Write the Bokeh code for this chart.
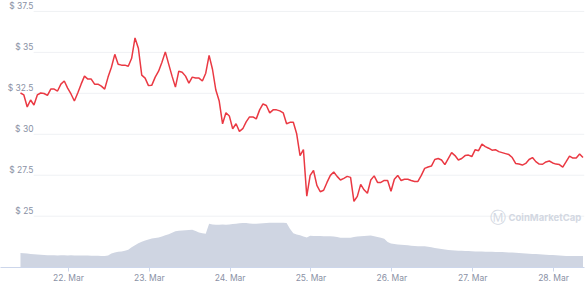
from datetime import datetime, timedelta
import pandas as pd
from bokeh.plotting import figure
from bokeh.models import Range1d, Label, FixedTicker, DatetimeTickFormatter, ColumnDataSource
from bokeh.embed import file_html
from bokeh.resources import INLINE

# ---- data ----
start_time = datetime(2022, 3, 21, 9, 45)   # first hourly sample
price = [
    32.52, 32.40, 31.67, 32.09, 31.79, 32.40, 32.52, 32.49, 32.37, 32.76,
    32.76, 32.64, 33.06, 33.25, 32.82, 32.46, 32.03, 32.52, 33.06, 33.55,
    33.37, 33.37, 33.06, 33.06, 32.94, 32.76, 33.49, 34.09, 34.88, 34.28,
    34.22, 34.22, 34.15, 34.64, 35.88, 35.25, 33.61, 33.43, 32.97, 33.00,
    33.49, 33.85, 34.40, 35.03, 34.28, 33.55, 32.88, 33.85, 33.79, 33.55,
    33.12, 33.49, 33.43, 33.43, 33.25, 33.73, 34.82, 33.97, 32.70, 32.03,
    30.64, 31.31, 31.12, 30.34, 30.64, 30.18, 30.34, 30.76, 31.06, 31.06,
    30.94, 31.49, 31.85, 31.76, 31.31, 31.49, 31.49, 31.43, 31.31, 30.64,
    30.73, 30.73, 30.03, 28.70, 29.06, 26.22, 27.49, 27.79, 26.88, 26.49,
    26.58, 27.06, 27.49, 27.70, 27.43, 27.21, 27.31, 27.43, 27.37, 25.91,
    26.21, 26.94, 26.61, 26.40, 27.21, 27.46, 27.06, 27.06, 27.18, 27.18,
    26.52, 27.25, 27.49, 27.18, 27.25, 27.25, 27.18, 27.12, 27.12, 27.49,
    27.92, 28.00, 28.06, 28.46, 28.52, 28.43, 28.15, 28.52, 28.88, 28.70,
    28.43, 28.52, 28.70, 28.73, 28.64, 29.06, 29.00, 29.40, 29.25, 29.15,
    29.03, 29.06, 28.94, 28.88, 28.82, 28.76, 28.58, 28.22, 28.18, 28.12,
    28.22, 28.46, 28.58, 28.33, 28.18, 28.17, 28.31, 28.37, 28.25, 28.18,
    28.15, 28.00, 28.33, 28.67, 28.55, 28.55, 28.79, 28.58,
]
volume_musd = [
    588, 576, 560, 544, 532, 520, 512, 504, 496, 492,
    496, 488, 492, 496, 488, 492, 488, 488, 484, 480,
    480, 476, 472, 472, 468, 468, 488, 560, 608, 632,
    648, 672, 712, 820, 892, 980, 1036, 1092, 1132, 1168,
    1188, 1212, 1248, 1300, 1344, 1400, 1456, 1484, 1496, 1504,
    1512, 1520, 1468, 1408, 1376, 1360, 1760, 1736, 1720, 1720,
    1728, 1720, 1732, 1752, 1768, 1784, 1796, 1792, 1776, 1764,
    1760, 1772, 1788, 1796, 1800, 1800, 1800, 1800, 1800, 1792,
    1560, 1384, 1332, 1300, 1248, 1208, 1280, 1268, 1268, 1268,
    1264, 1260, 1256, 1252, 1228, 1200, 1200, 1200, 1200, 1228,
    1252, 1264, 1272, 1284, 1292, 1260, 1228, 1200, 1160, 1028,
    972, 944, 928, 920, 904, 892, 880, 868, 860, 856,
    852, 840, 812, 784, 764, 744, 724, 704, 692, 684,
    676, 672, 664, 660, 656, 648, 644, 640, 636, 632,
    632, 628, 628, 624, 616, 608, 600, 592, 584, 576,
    568, 556, 548, 540, 532, 524, 516, 508, 500, 492,
    480, 472, 468, 468, 468, 468, 468, 468,
]
price_ticks = [25, 27.5, 30, 32.5, 35, 37.5]
price_tick_labels = ["$ 25", "$ 27.5", "$ 30", "$ 32.5", "$ 35", "$ 37.5"]
date_ticks = [datetime(2022, 3, d) for d in range(22, 29)]

# ---- styles ----
RED = "#ea3943"
AREA = "#cfd5e2"
GRID = "#eff1f4"
LABEL = "#8a91a5"
WATERMARK = "#d3d8e2"
FONT = "Inter"

times = pd.date_range(start_time, periods=len(price), freq="h")
src = ColumnDataSource(dict(t=times, price=price, vol=volume_musd))

x_start = datetime(2022, 3, 21, 3, 49)   # frame starts at the page's left edge
x_end = datetime(2022, 3, 28, 9, 12)

p = figure(width=588, height=285, output_backend="svg", toolbar_location=None,
           x_axis_type="datetime",
           x_range=Range1d(x_start, x_end), y_range=Range1d(21.867, 38.167),
           min_border_left=0, min_border_right=4, min_border_top=0, min_border_bottom=16)
p.extra_y_ranges = {"vol": Range1d(0, 10760)}
p.outline_line_color = None
p.xgrid.visible = False
p.ygrid.visible = False
p.yaxis.visible = False
p.background_fill_color = "white"
p.border_fill_color = "white"

# horizontal grid lines (start right of the labels, as in the reference)
grid_x0 = start_time + timedelta(hours=3.9)
p.segment(x0=[grid_x0] * len(price_ticks), x1=[x_end] * len(price_ticks),
          y0=price_ticks, y1=price_ticks, line_color=GRID, line_width=1)

# volume area
p.varea(x="t", y1=0, y2="vol", source=src, y_range_name="vol", fill_color=AREA)

# price line
p.line(x="t", y="price", source=src, line_color=RED, line_width=1.5)

# y labels inside the plot
for v, txt in zip(price_ticks, price_tick_labels):
    p.add_layout(Label(x=33, x_units="screen", y=v, y_units="data", text=txt,
                       text_align="right", text_baseline="middle", y_offset=5,
                       text_font=FONT, text_font_size="8.5px", text_color=LABEL))

# x axis
ax = p.xaxis[0]
ax.ticker = FixedTicker(ticks=[d.timestamp() * 1000 for d in date_ticks])
ax.formatter = DatetimeTickFormatter(days="%d. %b", months="%d. %b", hours="%d. %b",
                                     hourmin="%d. %b", minutes="%d. %b")
ax.major_tick_out = 4
ax.major_tick_in = 0
ax.minor_tick_out = 0
ax.minor_tick_in = 0
ax.major_tick_line_color = "#ccd6eb"
ax.axis_line_color = "#ccd6eb"
ax.major_label_standoff = 1
ax.major_label_text_font = FONT
ax.major_label_text_font_size = "8.5px"
ax.major_label_text_color = LABEL

# watermark
p.add_layout(Label(x=497, y=50, x_units="screen", y_units="screen", text="\u24C2",
                   text_font="DejaVu Sans", text_font_size="16px", text_color=WATERMARK,
                   text_align="center", text_baseline="middle"))
p.add_layout(Label(x=508, y=50, x_units="screen", y_units="screen", text="CoinMarketCap",
                   text_font=FONT, text_font_size="9.5px", text_font_style="bold",
                   text_color=WATERMARK, text_align="left", text_baseline="middle"))

open("out.html", "w").write(file_html(p, INLINE))
